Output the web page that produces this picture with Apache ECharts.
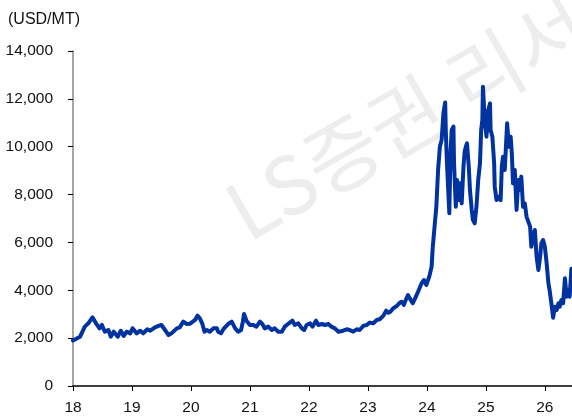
<!DOCTYPE html>
<html>
<head>
<meta charset="utf-8">
<script src="https://cdn.jsdelivr.net/npm/echarts@6/dist/echarts.min.js"></script>
<style>
  html, body { margin: 0; padding: 0; background: #fff; }
  #chart { width: 572px; height: 419px; }
</style>
</head>
<body>
<div id="chart"></div>
<script>
// Cocoa price, USD per metric ton, sampled as decimal years
const dates = [
  2018.00, 2018.12, 2018.20, 2018.26, 2018.33, 2018.39, 2018.45, 2018.49, 2018.54, 2018.60,
  2018.64, 2018.69, 2018.76, 2018.81, 2018.86, 2018.91, 2018.97, 2019.01, 2019.08, 2019.14,
  2019.19, 2019.26, 2019.31, 2019.39, 2019.45, 2019.50, 2019.56, 2019.62, 2019.67, 2019.76,
  2019.81, 2019.87, 2019.93, 2019.98, 2020.07, 2020.11, 2020.15, 2020.19, 2020.23, 2020.27,
  2020.32, 2020.38, 2020.44, 2020.46, 2020.51, 2020.56, 2020.63, 2020.69, 2020.75, 2020.80,
  2020.85, 2020.88, 2020.90, 2020.94, 2021.00, 2021.06, 2021.11, 2021.17, 2021.21, 2021.25,
  2021.31, 2021.37, 2021.42, 2021.48, 2021.54, 2021.59, 2021.66, 2021.72, 2021.76, 2021.82,
  2021.88, 2021.92, 2021.96, 2022.02, 2022.06, 2022.12, 2022.16, 2022.22, 2022.27, 2022.33,
  2022.38, 2022.44, 2022.50, 2022.53, 2022.58, 2022.64, 2022.69, 2022.75, 2022.81, 2022.86,
  2022.92, 2022.98, 2023.03, 2023.09, 2023.15, 2023.20, 2023.26, 2023.31, 2023.34, 2023.38,
  2023.43, 2023.49, 2023.53, 2023.57, 2023.61, 2023.64, 2023.68, 2023.71, 2023.76, 2023.80,
  2023.85, 2023.91, 2023.95, 2023.99, 2024.04, 2024.08, 2024.10, 2024.14, 2024.16, 2024.19,
  2024.22, 2024.25, 2024.28, 2024.31, 2024.32, 2024.34, 2024.38, 2024.40, 2024.42, 2024.45,
  2024.46, 2024.49, 2024.51, 2024.54, 2024.56, 2024.59, 2024.62, 2024.64, 2024.66, 2024.68,
  2024.71, 2024.73, 2024.76, 2024.78, 2024.81, 2024.84, 2024.87, 2024.90, 2024.92, 2024.94,
  2024.95, 2024.96, 2024.98, 2025.01, 2025.04, 2025.07, 2025.08, 2025.11, 2025.14, 2025.15,
  2025.18, 2025.21, 2025.25, 2025.27, 2025.29, 2025.32, 2025.36, 2025.39, 2025.42, 2025.44,
  2025.46, 2025.49, 2025.52, 2025.55, 2025.58, 2025.60, 2025.63, 2025.66, 2025.69, 2025.72,
  2025.75, 2025.77, 2025.80, 2025.83, 2025.86, 2025.89, 2025.92, 2025.94, 2025.97, 2026.00,
  2026.03, 2026.06, 2026.08, 2026.11, 2026.14, 2026.17, 2026.20, 2026.23, 2026.25, 2026.28,
  2026.31, 2026.34, 2026.37, 2026.40, 2026.42, 2026.45
];
const prices = [
  1900, 2060, 2480, 2620, 2870, 2620, 2410, 2550, 2270, 2340,
  2060, 2270, 2060, 2310, 2090, 2270, 2200, 2410, 2200, 2310,
  2200, 2370, 2310, 2450, 2510, 2550, 2340, 2130, 2200, 2410,
  2450, 2690, 2590, 2600, 2760, 2940, 2830, 2620, 2270, 2340,
  2270, 2410, 2410, 2270, 2200, 2410, 2590, 2690, 2410, 2270,
  2340, 2690, 3010, 2730, 2550, 2550, 2480, 2690, 2590, 2410,
  2480, 2340, 2410, 2270, 2270, 2480, 2620, 2730, 2550, 2620,
  2410, 2340, 2550, 2620, 2480, 2730, 2550, 2590, 2550, 2590,
  2480, 2410, 2270, 2200, 2310, 2370, 2340, 2270, 2370, 2340,
  2510, 2550, 2650, 2620, 2760, 2790, 2930, 3150, 3060, 3100,
  3250, 3340, 3460, 3520, 3390, 3590, 3800, 3660, 3460, 3660,
  3940, 4290, 4430, 4220, 4570, 4990, 5820, 6940, 7490, 9030,
  10000, 10280, 11400, 11850, 10700, 9310, 7220, 9720, 10700, 10840,
  9310, 7490, 8610, 7770, 8470, 7630, 9170, 9790, 10000, 10140,
  9170, 8190, 7360, 6940, 6800, 7490, 8610, 9310, 10700, 11120,
  12510, 12550, 11120, 10420, 11530, 11810, 10700, 10420, 9310, 8330,
  7770, 7910, 7770, 9170, 9580, 9030, 10980, 10000, 10420, 9720,
  8470, 9030, 7360, 8610, 8190, 8750, 7490, 7630, 7070, 7070,
  6660, 5820, 6240, 6520, 5400, 4850, 5400, 5960, 6100, 5820,
  5130, 4290, 4010, 3460, 2850, 3310, 3180, 3460, 3310, 3590,
  3460, 4500, 3730, 4010, 3730, 4900
];
const yearTicks = [2018, 2019, 2020, 2021, 2022, 2023, 2024, 2025, 2026];
const unitLabel = '(USD/MT)';
const watermarkText = 'LS증권 리서치센터';

const FONT = '"Liberation Sans", Arial, sans-serif';
const chart = echarts.init(document.getElementById('chart'), null, { renderer: 'canvas' });

chart.setOption({
  animation: false,
  backgroundColor: '#ffffff',
  grid: { left: 73, right: 0, top: 51, bottom: 33, containLabel: false },
  graphic: [
    {
      type: 'text',
      z: -10,
      x: 233, y: 217,
      rotation: Math.PI / 6,
      style: {
        text: watermarkText,
        fill: '#ededed',
        font: '80px "Noto Sans CJK KR", sans-serif',
        textAlign: 'left',
        textVerticalAlign: 'middle'
      }
    },
    {
      type: 'text',
      x: 8, y: 20,
      style: {
        text: unitLabel,
        fill: '#111',
        font: '16px ' + FONT,
        textAlign: 'left',
        textVerticalAlign: 'middle'
      }
    }
  ],
  xAxis: {
    type: 'value',
    min: 2018,
    max: 2026.46,
    interval: 1,
    splitLine: { show: false },
    axisLine: { show: true, lineStyle: { color: '#000', width: 1.5 } },
    axisTick: { show: true, length: 5, customValues: yearTicks, lineStyle: { color: '#000', width: 1 } },
    axisLabel: {
      customValues: yearTicks,
      margin: 14,
      color: '#111',
      fontSize: 15.5,
      fontFamily: FONT,
      formatter: v => String(Math.round(v) - 2000)
    }
  },
  yAxis: {
    type: 'value',
    min: 0,
    max: 14000,
    interval: 2000,
    splitLine: { show: false },
    axisLine: { show: true, lineStyle: { color: '#888', width: 1.5 } },
    axisTick: { show: true, length: 5, lineStyle: { color: '#000', width: 1 } },
    axisLabel: {
      margin: 20,
      color: '#111',
      fontSize: 15.5,
      fontFamily: FONT,
      formatter: v => v.toLocaleString('en-US')
    }
  },
  series: [
    {
      type: 'line',
      data: dates.map((d, i) => [d, prices[i]]),
      showSymbol: false,
      symbol: 'none',
      z: 5,
      lineStyle: { color: '#0033a0', width: 4, join: 'round', cap: 'round' }
    }
  ]
});
</script>
</body>
</html>
